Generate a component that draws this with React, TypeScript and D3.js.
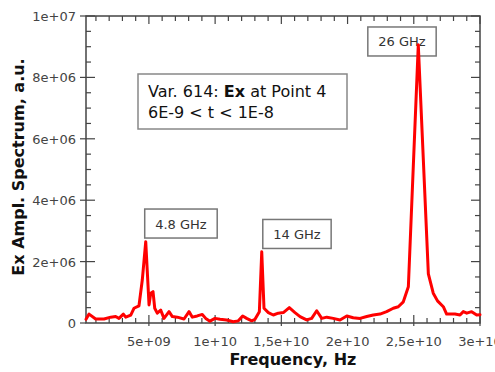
import React, { useEffect, useRef } from 'react';
import * as d3 from 'd3';

// spectrum: frequency in GHz, amplitude in 1e6 a.u.
const freqGHz = [
  0.25, 0.48, 0.98, 1.61, 2.12, 2.49, 2.74, 3.07, 3.25, 3.63, 3.87, 4.25, 4.5, 4.76, 5.01, 5.14,
  5.31, 5.44, 5.63, 5.89, 6.14, 6.52, 6.77, 7.14, 7.65, 8.03, 8.28, 8.65, 9.03, 9.29, 9.61, 9.99,
  10.37, 10.87, 11.37, 11.75, 12.08, 12.38, 12.76, 13.01, 13.34, 13.52, 13.69, 14.02, 14.39, 14.77,
  15.15, 15.6, 16.03, 16.41, 16.91, 17.29, 17.67, 18.05, 18.43, 18.92, 19.43, 19.94, 20.43, 20.94,
  21.45, 21.94, 22.45, 22.95, 23.45, 23.83, 24.21, 24.59, 25.34, 26.1, 26.47, 26.79, 27.23, 27.48,
  28.11, 28.49, 28.74, 29.0, 29.37, 29.75, 30.0,
];
const amplitude = [
  0.12, 0.29, 0.13, 0.13, 0.19, 0.21, 0.15, 0.29, 0.19, 0.26, 0.48, 0.56, 1.4, 2.65, 0.59, 0.97,
  1.02, 0.48, 0.32, 0.42, 0.15, 0.37, 0.21, 0.19, 0.13, 0.37, 0.19, 0.23, 0.28, 0.15, 0.06, 0.15,
  0.12, 0.1, 0.04, 0.07, 0.23, 0.15, 0.07, 0.12, 0.37, 2.32, 0.48, 0.34, 0.26, 0.32,
  0.34, 0.5, 0.34, 0.21, 0.1, 0.15, 0.4, 0.15, 0.19, 0.15, 0.1, 0.23, 0.17, 0.15,
  0.21, 0.26, 0.29, 0.37, 0.48, 0.53, 0.69, 1.18, 9.06, 1.6, 0.97, 0.72, 0.53, 0.29,
  0.29, 0.26, 0.37, 0.32, 0.37, 0.26, 0.27,
];

const xTickValues = [5e9, 1e10, 1.5e10, 2e10, 2.5e10, 3e10];
const xTickLabels = ['5e+09', '1e+10', '1,5e+10', '2e+10', '2,5e+10', '3e+10'];
const yTickValues = [0, 2e6, 4e6, 6e6, 8e6, 1e7];
const yTickLabels = ['0', '2e+06', '4e+06', '6e+06', '8e+06', '1e+07'];

// peak labels, box centre in data units (Hz, a.u.)
const peakLabels = ['4.8 GHz', '14 GHz', '26 GHz'];
const peakLabelFreq = [7.42e9, 16.18e9, 24.11e9];
const peakLabelAmp = [3.24e6, 2.9e6, 9.17e6];

const FONT = 'DejaVu Sans, Verdana, sans-serif';

const App: React.FC = () => {
  const ref = useRef<SVGSVGElement>(null);

  useEffect(() => {
    if (!ref.current) return;
    const svg = d3.select(ref.current);
    svg.selectAll('*').remove();

    const width = 495;
    const height = 372;
    const left = 86, right = 480, top = 16, bottom = 323;

    const x = d3.scaleLinear().domain([2.5e8, 3e10]).range([left, right]);
    const y = d3.scaleLinear().domain([0, 1e7]).range([bottom, top]);

    svg.append('rect').attr('width', width).attr('height', height).attr('fill', '#fff');

    const axisColor = '#444';

    // minor / major ticks on all four sides
    const xMinor = d3.range(1e9, 3.0001e10, 1e9);
    const yMinor = d3.range(5e5, 1.0001e7, 5e5);
    const ticks = svg.append('g').attr('stroke', axisColor).attr('stroke-width', 1.2);
    xMinor.forEach(v => {
      const major = Math.abs(v / 5e9 - Math.round(v / 5e9)) < 1e-6;
      const len = major ? 8 : 5;
      ticks.append('line').attr('x1', x(v)).attr('x2', x(v))
        .attr('y1', bottom + (major ? 3 : 0)).attr('y2', bottom - len);
      ticks.append('line').attr('x1', x(v)).attr('x2', x(v))
        .attr('y1', top).attr('y2', top + len);
    });
    yMinor.forEach(v => {
      const major = Math.abs(v / 2e6 - Math.round(v / 2e6)) < 1e-6;
      const len = major ? 9 : 5;
      ticks.append('line').attr('y1', y(v)).attr('y2', y(v))
        .attr('x1', left - (major ? 6 : 0)).attr('x2', left + len);
      ticks.append('line').attr('y1', y(v)).attr('y2', y(v))
        .attr('x1', right).attr('x2', right - len);
    });
    ticks.append('line').attr('x1', left - 6).attr('x2', left).attr('y1', bottom).attr('y2', bottom);

    svg.append('rect')
      .attr('x', left).attr('y', top)
      .attr('width', right - left).attr('height', bottom - top)
      .attr('fill', 'none').attr('stroke', axisColor).attr('stroke-width', 1.5);

    // tick labels
    svg.append('g').selectAll('text').data(yTickValues).enter().append('text')
      .attr('x', 76).attr('y', d => y(d) + 5)
      .attr('text-anchor', 'end').attr('font-family', FONT).attr('font-size', 13)
      .attr('fill', '#444').text((_, i) => yTickLabels[i]);

    svg.append('g').selectAll('text').data(xTickValues).enter().append('text')
      .attr('x', d => x(d)).attr('y', 346)
      .attr('text-anchor', 'middle').attr('font-family', FONT).attr('font-size', 13)
      .attr('fill', '#444').text((_, i) => xTickLabels[i]);

    // axis titles
    svg.append('text')
      .attr('x', 293).attr('y', 365)
      .attr('text-anchor', 'middle').attr('font-family', FONT).attr('font-size', 16)
      .attr('font-weight', 'bold').attr('fill', '#111').text('Frequency, Hz');

    svg.append('text')
      .attr('transform', 'translate(24,167) rotate(-90)')
      .attr('text-anchor', 'middle').attr('font-family', FONT).attr('font-size', 16)
      .attr('font-weight', 'bold').attr('fill', '#111').text('Ex Ampl. Spectrum, a.u.');

    // info box
    svg.append('rect')
      .attr('x', 138).attr('y', 74).attr('width', 209).attr('height', 55)
      .attr('fill', '#fff').attr('stroke', '#888').attr('stroke-width', 1.5);
    const t1 = svg.append('text').attr('x', 148).attr('y', 97)
      .attr('font-family', FONT).attr('font-size', 16).attr('fill', '#111');
    t1.append('tspan').text('Var. 614: ');
    t1.append('tspan').attr('font-weight', 'bold').text('Ex');
    t1.append('tspan').text(' at Point 4');
    svg.append('text').attr('x', 148).attr('y', 118)
      .attr('font-family', FONT).attr('font-size', 16).attr('fill', '#111')
      .text('6E-9 < t < 1E-8');

    // peak label boxes
    const labels = svg.append('g');
    peakLabels.forEach((lab, i) => {
      const cx = x(peakLabelFreq[i]);
      const cy = y(peakLabelAmp[i]);
      const g = labels.append('g');
      const rect = g.append('rect').attr('fill', '#fff').attr('stroke', '#777').attr('stroke-width', 1.5);
      const txt = g.append('text')
        .attr('x', cx).attr('y', cy + 5)
        .attr('text-anchor', 'middle').attr('font-family', FONT).attr('font-size', 13)
        .attr('fill', '#333').text(lab);
      const w = (txt.node() as SVGTextElement).getComputedTextLength() + 21;
      rect.attr('x', cx - w / 2).attr('y', cy - 14.5).attr('width', w).attr('height', 29);
    });

    // spectrum line
    const pts = freqGHz.map((f, i) => [f * 1e9, amplitude[i] * 1e6] as [number, number]);
    const line = d3.line<[number, number]>().x(d => x(d[0])).y(d => y(d[1]));
    svg.append('path')
      .datum(pts)
      .attr('fill', 'none').attr('stroke', '#ff0000').attr('stroke-width', 3)
      .attr('stroke-linejoin', 'round').attr('stroke-linecap', 'round')
      .attr('d', line);
  }, []);

  return (
    <svg
      ref={ref}
      width={495}
      height={372}
      style={{ position: 'absolute', left: 0, top: 0 }}
    />
  );
};

export default App;
